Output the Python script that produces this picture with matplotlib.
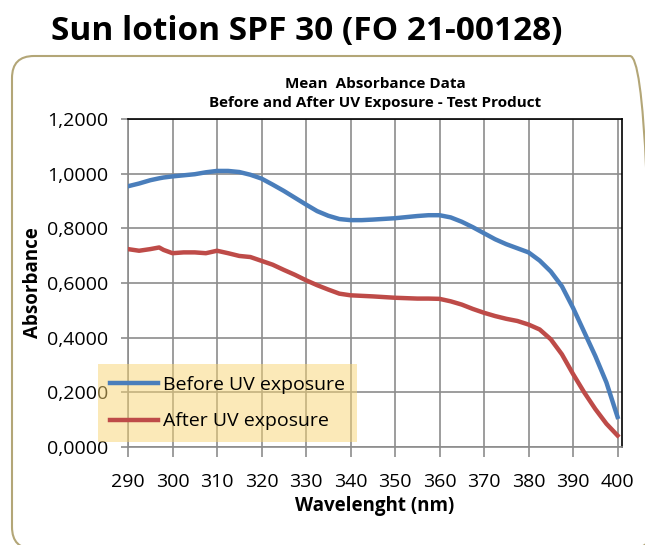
import matplotlib.pyplot as plt
from matplotlib.patches import FancyBboxPatch
from matplotlib.ticker import FuncFormatter, MultipleLocator
from matplotlib.transforms import IdentityTransform

# wavelength grid and absorbance values
wavelength = [290, 292.5, 295, 297, 298, 300, 302.5, 305, 307.5, 310, 312.5, 315, 317.5,
              320, 322.5, 325, 327.5, 330, 332.5, 335, 337.5, 340, 342.5, 345, 350,
              355, 357.5, 360, 362.5, 365, 367.5, 370, 372.5, 375, 377.5, 380, 382.5,
              385, 387.5, 390, 392.5, 395, 397.5, 400]
before_uv = [0.954, 0.964, 0.976, 0.983, 0.986, 0.990, 0.994, 0.998, 1.005, 1.010, 1.010, 1.006, 0.996,
             0.982, 0.960, 0.937, 0.912, 0.887, 0.863, 0.846, 0.834, 0.830, 0.830, 0.832, 0.837,
             0.845, 0.848, 0.848, 0.840, 0.824, 0.804, 0.782, 0.760, 0.742, 0.727, 0.712, 0.682,
             0.642, 0.588, 0.509, 0.421, 0.333, 0.236, 0.110]
after_uv = [0.724, 0.718, 0.724, 0.730, 0.721, 0.709, 0.712, 0.712, 0.709, 0.718, 0.709, 0.699, 0.695,
            0.681, 0.667, 0.648, 0.630, 0.610, 0.592, 0.576, 0.561, 0.555, 0.553, 0.551, 0.546,
            0.543, 0.543, 0.542, 0.533, 0.521, 0.505, 0.491, 0.479, 0.469, 0.461, 0.448, 0.430,
            0.394, 0.339, 0.267, 0.200, 0.139, 0.085, 0.042]

BLUE = "#4A7EBB"
RED = "#BE4B48"
GRID = "#8C8C8C"
FONT = "Open Sans"

plt.rcParams.update({"font.family": FONT})

fig = plt.figure(figsize=(6.45, 5.45), dpi=100)

# rounded frame around the chart
frame = FancyBboxPatch((12, -4), 640, 493, boxstyle="round,pad=0,rounding_size=22",
                       transform=IdentityTransform(), facecolor="none",
                       edgecolor="#B3A677", linewidth=1.5, zorder=0)
fig.patches.append(frame)

fig.text(0.475, 0.942, "Sun lotion SPF 30 (FO 21-00128)", ha="center", va="center",
         fontsize=24, fontweight="bold")

ax = fig.add_axes([128 / 645, 1 - 447 / 545, 494 / 645, 328 / 545])
ax.set_zorder(2)
ax.plot(wavelength, before_uv, color=BLUE, linewidth=3.2, label="Before UV exposure",
        solid_joinstyle="round", zorder=3)
ax.plot(wavelength, after_uv, color=RED, linewidth=3.2, label="After UV exposure",
        solid_joinstyle="round", zorder=3)

ax.set_xlim(290, 401)
ax.set_ylim(0, 1.2)
ax.xaxis.set_major_locator(MultipleLocator(10))
ax.yaxis.set_major_locator(MultipleLocator(0.2))
ax.yaxis.set_major_formatter(FuncFormatter(lambda v, _: f"{v:.4f}".replace(".", ",")))
ax.grid(True, color=GRID, linewidth=1.2)
ax.set_axisbelow(True)
ax.tick_params(axis="both", labelsize=14, color=GRID, width=1.2)
ax.tick_params(axis="x", length=7, pad=12)
ax.tick_params(axis="y", length=5, pad=9)
for side in ["left", "bottom"]:
    ax.spines[side].set_color(GRID)
    ax.spines[side].set_linewidth(1.2)
for side in ["top", "right"]:
    ax.spines[side].set_color("black")
    ax.spines[side].set_linewidth(1.2)

ax.set_title("Mean  Absorbance Data\nBefore and After UV Exposure - Test Product",
             fontsize=11, fontweight="bold", pad=9, linespacing=1.4)
ax.set_xlabel("Wavelenght (nm)", fontsize=13.5, fontweight="bold", labelpad=3)
ax.set_ylabel("Absorbance", fontsize=13.5, fontweight="bold", labelpad=3)

leg = ax.legend(loc="lower left", bbox_to_anchor=(-0.061, 0.015), borderaxespad=0,
                fontsize=14, handlelength=2.5, handletextpad=0.25, labelspacing=0.95,
                borderpad=0.6, fancybox=False, framealpha=0.5)
leg.get_frame().set_facecolor("#F9D572")
leg.get_frame().set_edgecolor("none")

fig.savefig("out.png", dpi=100)
